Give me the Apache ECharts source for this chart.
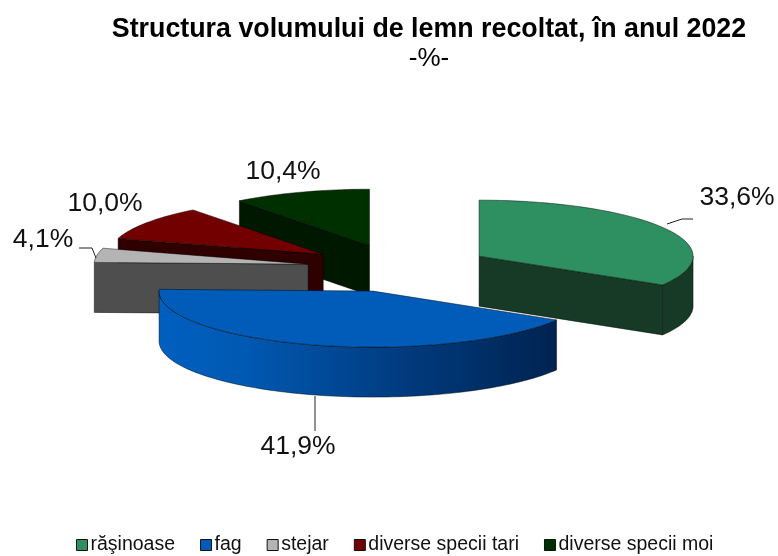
<!DOCTYPE html>
<html><head><meta charset="utf-8">
<style>html,body{margin:0;padding:0;background:#fff}#c{width:778px;height:556px}</style>
<script src="https://cdn.jsdelivr.net/npm/echarts@6/dist/echarts.min.js"></script>
</head><body><div id="c"></div>
<script>
const categories = ['răşinoase','fag','stejar','diverse specii tari','diverse specii moi'];
const values = [33.6,41.9,4.1,10.0,10.4];
const titleText = 'Structura volumului de lemn recoltat, în anul 2022';
const subtitleText = '-%-';
const topColors = ['#2e8f60','#005cb8','#b4b4b4','#730000','#003000'];
const wallColors = ['#163a26','#00479a','#4e4e4e','#2f0000','#001800'];
const drawOrder = [0,4,3,2,1];
const labelPos = [[737,198],[298,447],[43,240],[105,204],[283,172]];
const leaders = [
  [[667,224],[682,219],[693,219]],
  [[315,396],[315,431]],
  [[79,248],[92,248],[96,258]],
  [],[]
];
const C = {x:399,y:268,rx:214,ry:56,explode:92,depth:50};
const rad = d => d*Math.PI/180;
const total = values.reduce((a,b)=>a+b,0);
let acc = 0;
const spans = values.map(v=>{const s=acc/total*360; acc+=v; return [s,acc/total*360];});
const chart = echarts.init(document.getElementById('c'));
function arcPts(ax,ay,a0,a1,dz){
  const out=[]; const n=Math.max(2,Math.ceil(Math.abs(a1-a0)/1.5));
  for(let i=0;i<=n;i++){const a=rad(a0+(a1-a0)*i/n);
    out.push([ax+C.rx*Math.sin(a),ay-C.ry*Math.cos(a)+dz]);}
  return out;
}
function renderSlice(i){
  return function(params,api){
    const a0=api.value(0), a1=api.value(1), mid=rad((a0+a1)/2);
    const ax=C.x+C.explode*Math.sin(mid), ay=C.y-C.explode*(C.ry/C.rx)*Math.cos(mid);
    const stroke={stroke:'rgba(0,0,0,0.75)',lineWidth:0.6};
    const kids=[];
    const poly=(pts,fill)=>kids.push({type:'polygon',shape:{points:pts},style:Object.assign({fill:fill},stroke),silent:true});
    const radial=(ang)=>{const p=arcPts(ax,ay,ang,ang,0)[0];
      poly([[ax,ay],p,[p[0],p[1]+C.depth],[ax,ay+C.depth]],wallColors[i]);};
    if(Math.sin(rad(a0))<-1e-6) radial(a0);
    if(Math.sin(rad(a1))>1e-6) radial(a1);
    const w0=Math.max(a0,90), w1=Math.min(a1,270);
    if(w1>w0){
      const fill = i===1 ? new echarts.graphic.LinearGradient(0,0,1,0,[
        {offset:0,color:'#005fbf'},{offset:0.2,color:'#005ab4'},{offset:0.6,color:'#003c80'},{offset:1,color:'#002350'}]) : wallColors[i];
      const top=arcPts(ax,ay,w0,w1,0), bot=arcPts(ax,ay,w1,w0,C.depth);
      poly(top.concat(bot),fill);
    }
    poly([[ax,ay]].concat(arcPts(ax,ay,a0,a1,0)),topColors[i]);
    if(leaders[i].length) kids.push({type:'polyline',shape:{points:leaders[i]},style:{stroke:'#222',lineWidth:1,fill:null},silent:true});
    kids.push({type:'text',x:labelPos[i][0],y:labelPos[i][1],silent:true,
      style:{text:values[i].toFixed(1).replace('.',',')+'%',font:'26.5px "Liberation Sans"',fill:'#111',align:'center',verticalAlign:'middle'}});
    return {type:'group',children:kids};
  };
}
chart.setOption({
  animation:false,
  backgroundColor:'#fff',
  title:{text:titleText,subtext:subtitleText,left:424,top:11,textAlign:'center',itemGap:3,
    textStyle:{fontFamily:'Liberation Sans',fontWeight:'bold',fontSize:26.8,color:'#000'},
    subtextStyle:{fontFamily:'Liberation Sans',fontSize:26,color:'#000'}},
  legend:{left:71,top:530,itemWidth:11,itemHeight:11,itemGap:25,icon:'rect',selectedMode:false,
    data:categories,
    itemStyle:{borderColor:'#111',borderWidth:1},
    textStyle:{fontFamily:'Liberation Sans',fontSize:19.5,color:'#111',padding:[0,0,0,-2]}},
  series:categories.map((name,i)=>({
    type:'custom',name:name,coordinateSystem:'none',silent:true,
    z:2+drawOrder.indexOf(i),
    itemStyle:{color:topColors[i]},
    data:[spans[i]],
    renderItem:renderSlice(i)
  }))
});
</script></body></html>
